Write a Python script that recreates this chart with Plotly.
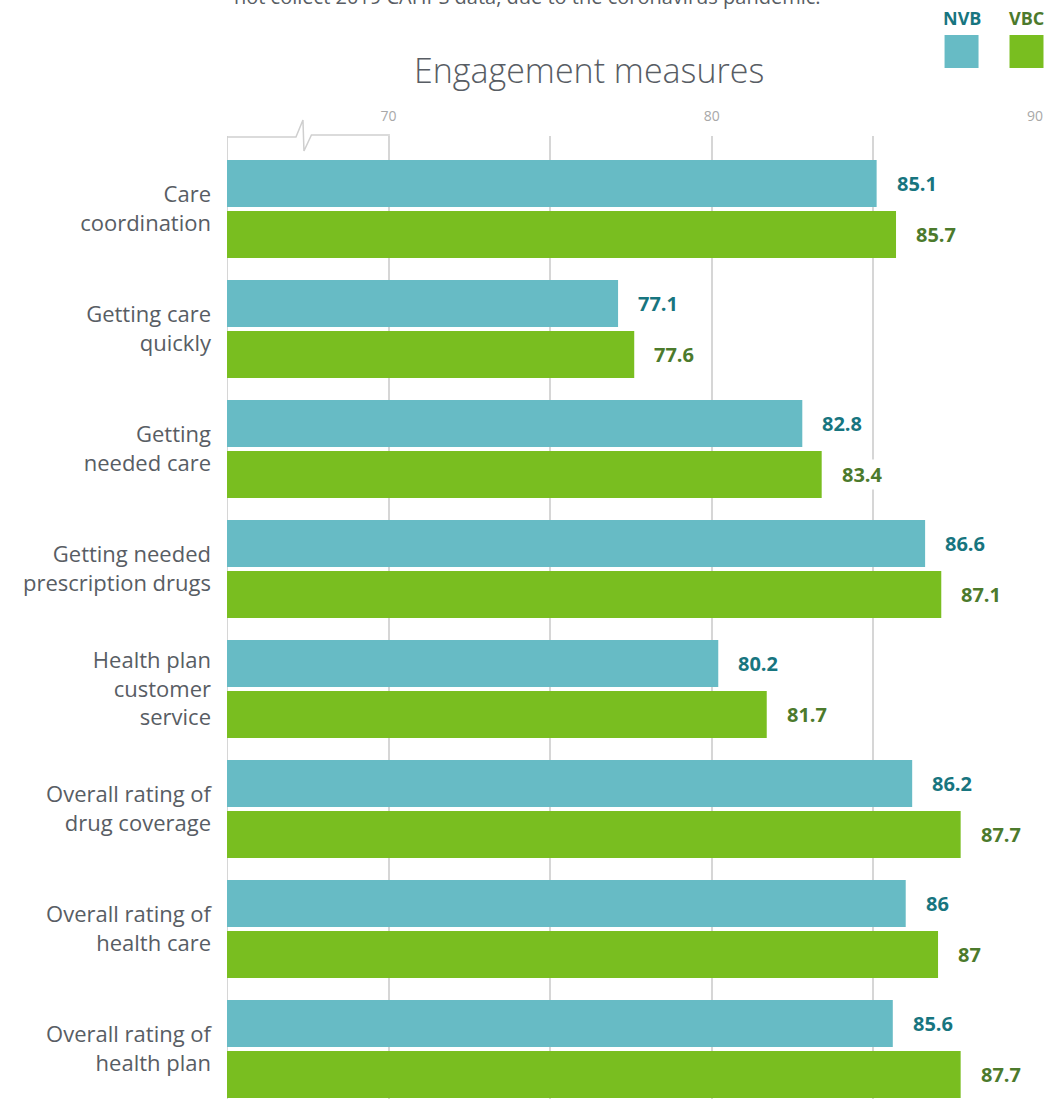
import plotly.graph_objects as go

# Engagement measures, CAHPS scores by payment model
categories = [
    "Care<br>coordination",
    "Getting care<br>quickly",
    "Getting<br>needed care",
    "Getting needed<br>prescription drugs",
    "Health plan<br>customer<br>service",
    "Overall rating of<br>drug coverage",
    "Overall rating of<br>health care",
    "Overall rating of<br>health plan",
]
nvb_values = [85.1, 77.1, 82.8, 86.6, 80.2, 86.2, 86.0, 85.6]
vbc_values = [85.7, 77.6, 83.4, 87.1, 81.7, 87.7, 87.0, 87.7]
nvb_labels = ["85.1", "77.1", "82.8", "86.6", "80.2", "86.2", "86", "85.6"]
vbc_labels = ["85.7", "77.6", "83.4", "87.1", "81.7", "87.7", "87", "87.7"]
tick_values = [65, 70, 75, 80, 85, 90]
tick_labels = ["", "70", "", "80", "", "90"]

W, H = 1061, 1099
L, R, T, B = 227, 25.5, 136, 0
PW, PH = W - L - R, H - T - B

NVB_BAR, VBC_BAR = "#67bbc5", "#79be20"
NVB_TEXT, VBC_TEXT = "#17757f", "#4c7a2c"
GRID = "#d6d6d6"
TEXT = "#585d64"
FONT = "Open Sans"


def px(x):
    return (x - L) / PW


def py(y):
    return (H - B - y) / PH


fig = go.Figure()
fig.add_trace(go.Bar(y=categories, x=nvb_values, orientation="h", name="NVB",
                     marker=dict(color=NVB_BAR, line=dict(width=0)), base=0))
fig.add_trace(go.Bar(y=categories, x=vbc_values, orientation="h", name="VBC",
                     marker=dict(color=VBC_BAR, line=dict(width=0)), base=0))

annotations = []
# value labels at the end of each bar
for cat, v, t in zip(categories, nvb_values, nvb_labels):
    annotations.append(dict(x=v, y=cat, xref="x", yref="y", text=f"<b>{t}</b>",
                            xanchor="left", yanchor="middle", xshift=18, yshift=25.5,
                            showarrow=False, bgcolor="white", borderpad=1,
                            font=dict(family=FONT, size=20, color=NVB_TEXT)))
for cat, v, t in zip(categories, vbc_values, vbc_labels):
    annotations.append(dict(x=v, y=cat, xref="x", yref="y", text=f"<b>{t}</b>",
                            xanchor="left", yanchor="middle", xshift=18, yshift=-25.5,
                            showarrow=False, bgcolor="white", borderpad=1,
                            font=dict(family=FONT, size=20, color=VBC_TEXT)))

# chart title
annotations.append(dict(x=px(589), y=py(70), xref="paper", yref="paper",
                        text="Engagement measures", showarrow=False,
                        xanchor="center", yanchor="middle",
                        font=dict(family=FONT, size=34, color=TEXT, weight=300)))
# trailing line of the note above the chart
annotations.append(dict(x=px(232), y=py(-4), xref="paper", yref="paper",
                        text="not collect 2019 CAHPS data, due to the coronavirus pandemic.",
                        showarrow=False, xanchor="left", yanchor="middle",
                        font=dict(family=FONT, size=20, color=TEXT)))
# legend labels
annotations.append(dict(x=px(962), y=py(18), xref="paper", yref="paper",
                        text="<b>NVB</b>", showarrow=False, xanchor="center", yanchor="middle",
                        font=dict(family=FONT, size=18, color=NVB_TEXT)))
annotations.append(dict(x=px(1027), y=py(18), xref="paper", yref="paper",
                        text="<b>VBC</b>", showarrow=False, xanchor="center", yanchor="middle",
                        font=dict(family=FONT, size=18, color=VBC_TEXT)))

shapes = [
    # legend swatches
    dict(type="rect", xref="paper", yref="paper", x0=px(945), x1=px(979), y0=py(68), y1=py(35),
         fillcolor=NVB_BAR, line=dict(width=0)),
    dict(type="rect", xref="paper", yref="paper", x0=px(1010), x1=px(1044), y0=py(68), y1=py(35),
         fillcolor=VBC_BAR, line=dict(width=0)),
    # left edge of the value scale
    dict(type="line", xref="x", yref="paper", x0=65, x1=65, y0=0, y1=1, layer="below",
         line=dict(color=GRID, width=2)),
]
# axis break marker between 0 and 70
pts = [(227, 137), (296, 137), (303, 120), (304, 151), (311.5, 135), (390, 135)]
path = "M " + " L ".join(f"{px(x):.5f},{py(y):.5f}" for x, y in pts)
shapes.append(dict(type="path", xref="paper", yref="paper", path=path,
                   line=dict(color="#cfcfcf", width=1.5)))

fig.update_layout(
    width=W, height=H,
    margin=dict(l=L, r=R, t=T, b=B, pad=0),
    paper_bgcolor="white", plot_bgcolor="white",
    barmode="group", bargap=0.15, bargroupgap=0.078,
    showlegend=False,
    annotations=annotations, shapes=shapes,
    xaxis=dict(range=[65, 90], side="top", tickvals=tick_values, ticktext=tick_labels,
               showgrid=True, gridcolor=GRID, gridwidth=1.5, zeroline=False,
               showline=False, ticks="", ticklabelstandoff=11,
               tickfont=dict(family=FONT, size=14, color="#a8a8a8")),
    yaxis=dict(range=[7 + 50 / 120, -73 / 120], autorange=False,
               showgrid=False, zeroline=False, showline=False, ticks="",
               ticklabelstandoff=15,
               tickfont=dict(family=FONT, size=22, color=TEXT)),
)

fig.write_html("out.html")
